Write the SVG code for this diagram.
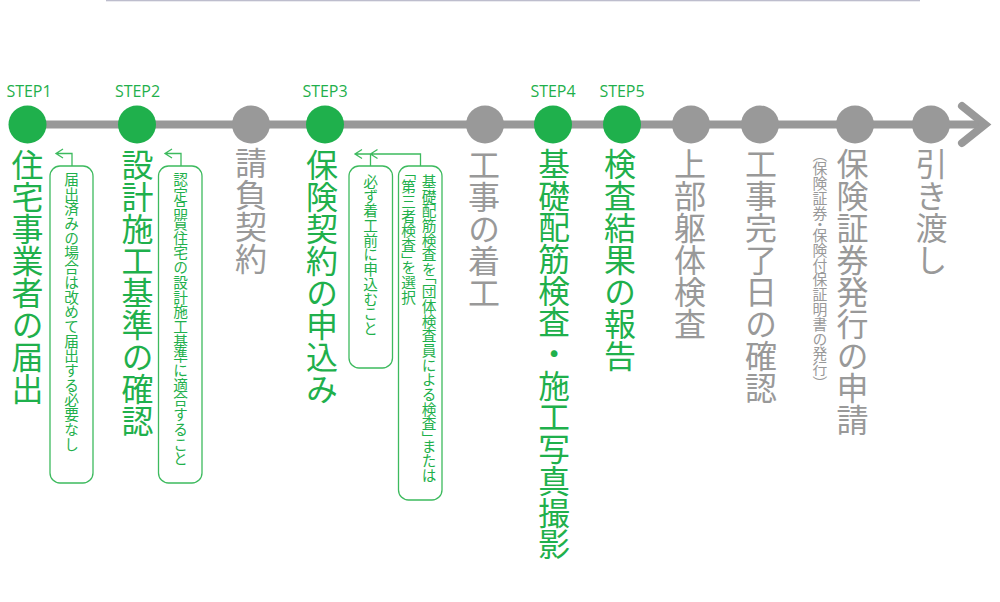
<svg xmlns="http://www.w3.org/2000/svg" width="1000" height="602" viewBox="0 0 1000 602">
<style>
.v{writing-mode:vertical-rl;font-family:"Noto Sans CJK JP","Noto Sans CJK SC",sans-serif;}
.big{font-size:32px;}
.g{fill:#1fb04c;}
.k{fill:#999999;}
.note{font-size:14.7px;fill:#1fb04c;}
.half{font-feature-settings:"vhal" 1;}
.step{font-family:"Open Sans","Noto Sans",sans-serif;font-size:16px;font-weight:500;fill:#1fb04c;text-anchor:middle;}
.box{fill:none;stroke:#3dba5e;stroke-width:1.3;}
.con{fill:none;stroke:#3dba5e;stroke-width:1.3;}
.cg{fill:#1fb04c;}
.ck{fill:#999999;}
</style>
<rect x="106" y="0" width="814" height="1.3" fill="#bdbdcd"/>
<g id="connectors">
<line x1="28" y1="124.5" x2="984" y2="124.5" stroke="#999999" stroke-width="8"/>
<polyline points="962,106 985,124.5 962,143" fill="none" stroke="#999999" stroke-width="8" stroke-linejoin="miter" stroke-linecap="round"/>
<path class="con" d="M72,166V153.5H56M63,149L56,153.5L63,158"/>
<path class="con" d="M181,166V153.5H165M172,149L165,153.5L172,158"/>
<path class="con" d="M420.5,166V154H355M362,149.5L355,154L362,158.5M370.5,166V154M377.5,149.5L370.5,154L377.5,158.5"/>
</g>
<g id="n1">
<circle class="cg" cx="27.5" cy="124.5" r="19"/>
<text class="step" x="29" y="97">STEP1</text>
<text class="v big g" x="27.5" y="149">住宅事業者の届出</text>
</g>
<g id="note1">
<rect class="box" x="50" y="166" width="43" height="317" rx="10"/>
<text class="v note" x="71.5" y="172">届出済みの場合は改めて届出する必要なし</text>
</g>
<g id="n2">
<circle class="cg" cx="137" cy="124.5" r="19"/>
<text class="step" x="137.5" y="97">STEP2</text>
<text class="v big g" x="137.5" y="149">設計施工基準の確認</text>
</g>
<g id="note2">
<rect class="box" x="158.5" y="166" width="43.5" height="317" rx="10"/>
<text class="v note" x="180.5" y="172">認定品質住宅の設計施工基準に適合すること</text>
</g>
<g id="n3">
<circle class="ck" cx="251" cy="124.5" r="19"/>
<text class="v big k" x="251" y="147">請負契約</text>
</g>
<g id="n4">
<circle class="cg" cx="325" cy="124.5" r="19"/>
<text class="step" x="325" y="97">STEP3</text>
<text class="v big g" x="322" y="149">保険契約の申込み</text>
</g>
<g id="note3">
<rect class="box" x="349" y="166" width="43.5" height="202" rx="10"/>
<text class="v note" x="370.5" y="174">必ず着工前に申込むこと</text>
</g>
<g id="note4">
<rect class="box" x="398.5" y="166" width="43.5" height="334" rx="10"/>
<text class="v note half" x="429" y="174">基礎配筋検査を「団体検査員による検査」または</text>
<text class="v note half" x="408.5" y="172">「第三者検査」を選択</text>
</g>
<g id="n5">
<circle class="ck" cx="485" cy="124.5" r="19"/>
<text class="v big k" x="484" y="149">工事の着工</text>
</g>
<g id="n6">
<circle class="cg" cx="553" cy="124.5" r="19"/>
<text class="step" x="553" y="97">STEP4</text>
<text class="v big g" x="554" y="148" style="font-size:31.7px">基礎配筋検査・施工写真撮影</text>
</g>
<g id="n7">
<circle class="cg" cx="622" cy="124.5" r="19"/>
<text class="step" x="622" y="97">STEP5</text>
<text class="v big g" x="620" y="148">検査結果の報告</text>
</g>
<g id="n8">
<circle class="ck" cx="691" cy="124.5" r="19"/>
<text class="v big k" x="690" y="148">上部躯体検査</text>
</g>
<g id="n9">
<circle class="ck" cx="760" cy="124.5" r="19"/>
<text class="v big k" x="761" y="148">工事完了日の確認</text>
</g>
<g id="n10">
<circle class="ck" cx="855" cy="124.5" r="19"/>
<text class="v big k" x="852.5" y="148">保険証券発行の申請</text>
<text class="v k half" x="820" y="154" style="font-size:14.8px">（保険証券・保険付保証明書の発行）</text>
</g>
<g id="n11">
<circle class="ck" cx="931" cy="124.5" r="19"/>
<text class="v big k" x="931.5" y="148">引き渡し</text>
</g>
</svg>
